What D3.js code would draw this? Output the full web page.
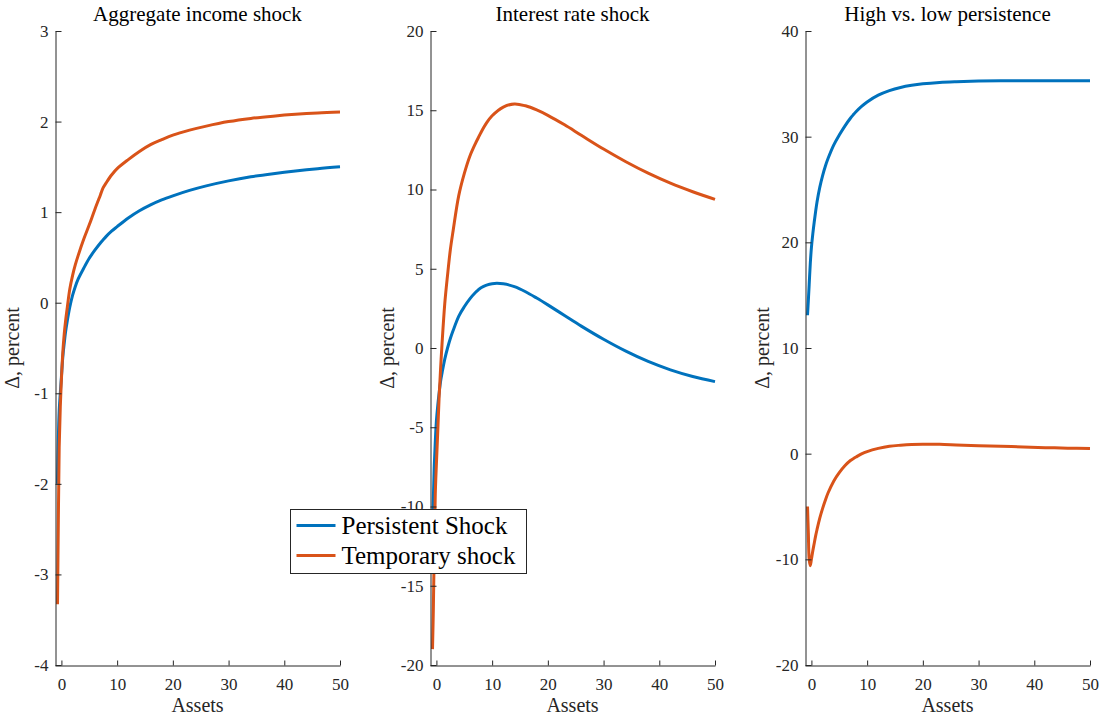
<!DOCTYPE html>
<html>
<head>
<meta charset="utf-8">
<script src="https://cdn.jsdelivr.net/npm/d3@7"></script>
<style>
  body { margin: 0; background: #fff; }
  svg { display: block; font-family: "Liberation Serif", "DejaVu Serif", serif; }
</style>
</head>
<body>
<svg id="chart" width="1107" height="719"></svg>
<script>
// asset grid shared by every panel
const assets = [-0.7, -0.55, -0.4, -0.2, 0, 0.25, 0.5, 0.75, 1, 1.5, 2, 2.5, 3, 4, 5, 6, 7, 7.5, 8, 9, 10,
                12, 14, 16, 18, 20, 23, 26, 30, 34, 38, 42, 46, 50];

// aggregate income shock
const incomePersistent = [-2.0, -1.5, -1.2, -1.0, -0.82, -0.6, -0.45, -0.32, -0.22, -0.05, 0.08, 0.18, 0.26,
                          0.38, 0.49, 0.58, 0.66, 0.695, 0.73, 0.79, 0.84, 0.935, 1.015, 1.08, 1.135, 1.18, 1.24,
                          1.29, 1.345, 1.39, 1.425, 1.455, 1.48, 1.50];
const incomeTemporary = [-3.33, -2.4, -1.6, -1.15, -0.85, -0.55, -0.35, -0.2, -0.08, 0.15, 0.3, 0.42, 0.52,
                         0.70, 0.86, 1.03, 1.19, 1.27, 1.32, 1.41, 1.48, 1.58, 1.67, 1.745, 1.80, 1.85, 1.905,
                         1.95, 2.0, 2.035, 2.06, 2.08, 2.095, 2.105];

// interest rate shock
const ratePersistent = [-11.5, -9.5, -7.6, -5.9, -4.6, -3.6, -2.8, -2.1, -1.6, -0.7, 0.0, 0.6, 1.1,
                        2.0, 2.6, 3.1, 3.5, 3.66, 3.8, 3.97, 4.06, 4.05, 3.87, 3.55, 3.15, 2.72, 2.05,
                        1.38, 0.55, -0.2, -0.85, -1.38, -1.8, -2.12];
const rateTemporary = [-19.0, -16.5, -13.0, -9.2, -7.3, -5.2, -3.0, -1.3, 0.2, 2.8, 4.6, 6.2, 7.4,
                       9.6, 11.0, 12.1, 12.9, 13.25, 13.6, 14.2, 14.65, 15.2, 15.4, 15.28, 15.02, 14.68, 14.08,
                       13.42, 12.55, 11.75, 11.03, 10.4, 9.86, 9.38];

// high vs. low persistence
const persistHigh = [13.1, 14.5, 16.0, 18.0, 19.5, 20.8, 21.9, 22.9, 23.8, 25.2, 26.3, 27.2, 27.95,
                     29.2, 30.15, 31.0, 31.74, 32.06, 32.36, 32.87, 33.29, 33.93, 34.36, 34.66, 34.86, 35.0, 35.13,
                     35.2, 35.26, 35.29, 35.3, 35.3, 35.3, 35.3];
const persistLow = [-5.0, -7.5, -10.0, -10.6, -10.0, -9.2, -8.5, -7.8, -7.2, -6.1, -5.2, -4.4, -3.7,
                    -2.6, -1.8, -1.15, -0.65, -0.48, -0.32, -0.02, 0.2, 0.5, 0.7, 0.8, 0.87, 0.9, 0.88,
                    0.83, 0.76, 0.7, 0.63, 0.57, 0.52, 0.48];

const titles = ["Aggregate income shock", "Interest rate shock", "High vs. low persistence"];
const yDomains = [[-4, 3], [-20, 20], [-20, 40]];
const yTicks = [[-4, -3, -2, -1, 0, 1, 2, 3], [-20, -15, -10, -5, 0, 5, 10, 15, 20], [-20, -10, 0, 10, 20, 30, 40]];
const xTicks = [0, 10, 20, 30, 40, 50];
const legendLabels = ["Persistent Shock", "Temporary shock"];
const colors = ["#0072BD", "#D95319"];

const panels = [
  [incomePersistent, incomeTemporary],
  [ratePersistent, rateTemporary],
  [persistHigh, persistLow]
];

const svg = d3.select("#chart");
const lefts = [55, 430, 805];
const pw = 285, plotTop = 31, plotBottom = 665;

panels.forEach((series, i) => {
  const g = svg.append("g").attr("transform", `translate(${lefts[i]},0)`);
  const x = d3.scaleLinear().domain([-1.15, 50]).range([0, pw]);
  const y = d3.scaleLinear().domain(yDomains[i]).range([plotBottom, plotTop]);

  const line = d3.line()
    .x((d, k) => x(assets[k]))
    .y(d => y(d))
    .curve(d3.curveCatmullRom.alpha(0.5));

  series.forEach((s, j) => {
    g.append("path")
      .datum(s)
      .attr("d", line)
      .attr("fill", "none")
      .attr("stroke", colors[j])
      .attr("stroke-width", 3)
      .attr("stroke-linejoin", "round");
  });

  const ya = g.append("g").attr("transform", "translate(0.5,0)")
    .call(d3.axisLeft(y).tickValues(yTicks[i]).tickSize(-6).tickSizeOuter(0).tickPadding(7).tickFormat(d3.format("d")));
  const xa = g.append("g").attr("transform", `translate(0,${plotBottom + 0.5})`)
    .call(d3.axisBottom(x).tickValues(xTicks).tickSize(-5).tickSizeOuter(0).tickPadding(12).tickFormat(d3.format("d")));
  [ya, xa].forEach(a => {
    a.attr("font-family", null).attr("font-size", 17);
    a.select(".domain").attr("stroke", "#262626");
    a.selectAll(".tick line").attr("stroke", "#262626");
    a.selectAll(".tick text").attr("fill", "#262626");
  });
  ya.selectAll(".tick text").text(d => d < 0 ? "-" + Math.abs(d) : d);

  g.append("text")
    .attr("x", pw / 2).attr("y", 21)
    .attr("text-anchor", "middle")
    .style("font-size", "21px").attr("fill", "#000")
    .text(titles[i]);

  g.append("text")
    .attr("x", pw / 2).attr("y", 712)
    .attr("text-anchor", "middle")
    .style("font-size", "20px").attr("fill", "#262626")
    .text("Assets");

  g.append("text")
    .attr("transform", `translate(-36,${(plotTop + plotBottom) / 2}) rotate(-90)`)
    .attr("text-anchor", "middle")
    .style("font-size", "20px").attr("fill", "#262626")
    .text("Δ, percent");
});

// legend
const lg = svg.append("g").attr("transform", "translate(290.5,509.5)");
lg.append("rect").attr("width", 236).attr("height", 64)
  .attr("fill", "#fff").attr("stroke", "#262626").attr("stroke-width", 1);
legendLabels.forEach((t, j) => {
  const yy = 16 + j * 30;
  lg.append("line").attr("x1", 6).attr("x2", 45).attr("y1", yy).attr("y2", yy)
    .attr("stroke", colors[j]).attr("stroke-width", 3);
  lg.append("text").attr("x", 51).attr("y", yy + 8)
    .style("font-size", "25px").attr("fill", "#000")
    .text(t);
});
</script>
</body>
</html>
